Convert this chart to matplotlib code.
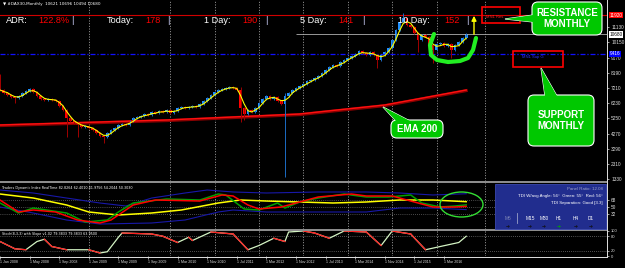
import numpy as np
import pandas as pd
import matplotlib.pyplot as plt
from matplotlib.patches import FancyBboxPatch, Rectangle, Ellipse, Polygon

plt.rcParams['font.family'] = ['Liberation Sans', 'DejaVu Sans']

# ---- data ----
title = '\u25bc #DAX30,Monthly  10621 10696 10494 10680'

first_open = 8050
closes = [7085, 6892, 6763, 6634, 6569, 6698, 6892, 7021, 7150, 6956,
          6698, 6505, 6440, 6505, 6440, 6376, 6053, 5795, 5279, 5086,
          4957, 4828, 4699, 4763, 4634, 4505, 4312, 4118, 4054, 4312,
          4505, 4634, 4828, 4892, 4828, 5086, 5279, 5344, 5408, 5537,
          5473, 5666, 5602, 5731, 5666, 5795, 5602, 5731, 5924, 5989,
          5924, 5989, 6053, 5989, 6182, 6376, 6569, 6763, 6956, 7085,
          7150, 7214, 7279, 7214, 7085, 5924, 5537, 5795, 5666, 5924,
          6247, 6505, 6698, 6505, 6634, 6376, 6182, 6698, 6892, 7085,
          7214, 7343, 7472, 7666, 7730, 7859, 7988, 8182, 8375, 8569,
          8698, 8633, 8891, 9020, 9149, 9278, 9407, 9601, 9472, 9343,
          9536, 9343, 9020, 9343, 9536, 9794, 10310, 10955, 11471, 11729,
          11278, 11149, 10762, 10310, 10633, 10504, 9988, 9665, 10052, 10117,
          9923, 10052, 9665, 9988, 10181, 10439, 10680]
wick_hi = {65: 7280, 77: 6892, 109: 12052, 110: 11600}
wick_lo = {4: 6247, 18: 4054, 21: 4054, 28: 3666, 65: 5021, 66: 5150,
           77: 1474, 102: 8504, 113: 9536, 117: 8826, 122: 9149}

ema200_bar = [0, 27, 45, 63, 81, 86, 104, 126]
ema200 = [4828, 5021, 5150, 5344, 5537, 5666, 6118, 7085]

res_level = 11920
sup_level = 9416
last_price = 10680
price_ticks = [1330, 2310, 3290, 4270, 5250, 6230, 7210, 8190, 9170, 10150, 11130]

separators = [24, 46, 58, 70, 82, 94, 106, 118, 131]
date_labels = ['1 Jan 2008', '1 May 2008', '1 Sep 2008', '1 Jan 2009', '1 May 2009',
               '1 Sep 2009', '1 Mar 2010', '1 Nov 2010', '1 Jul 2011', '1 Mar 2012',
               '1 Nov 2012', '1 Jul 2013', '1 Mar 2014', '1 Nov 2014', '1 Jul 2015',
               '1 Mar 2016']

# Traders Dynamic Index
tdi_title = 'Traders Dynamic Index RealTime 82.8264 62.4010 41.9756 54.2044 50.3030'
tdi_upper_bar = [0, 9, 18, 27, 34, 41, 50, 56, 63, 72, 86, 99, 108, 117, 126]
tdi_upper = [92.4, 84.7, 71.8, 59.0, 51.3, 71.8, 84.7, 92.4, 87.3, 84.7, 87.3, 87.3, 84.7, 79.6, 82.8]
tdi_lower_bar = [0, 9, 18, 27, 41, 50, 59, 63, 72, 86, 99, 108, 117, 126]
tdi_lower = [48.7, 33.3, 15.3, 5.0, 7.6, 15.3, 35.9, 41.0, 35.9, 35.9, 35.9, 46.1, 46.1, 42.0]
tdi_yellow_bar = [0, 9, 18, 24, 32, 41, 49, 59, 65, 72, 81, 90, 99, 108, 117, 126]
tdi_yellow = [82.1, 71.8, 53.9, 35.9, 28.2, 33.3, 41.0, 59.0, 66.7, 64.1, 61.6, 59.0, 61.6, 66.7, 66.7, 62.4]
tdi_green_bar = [0, 5, 9, 18, 23, 29, 32, 36, 45, 54, 59, 61, 66, 70, 75, 77, 81, 86, 93,
                 99, 105, 111, 114, 119, 123, 126]
tdi_green = [59.0, 33.3, 46.1, 33.3, 10.2, 15.3, 35.9, 59.0, 69.3, 66.7, 82.1, 79.6, 43.6,
             41.0, 59.0, 46.1, 61.6, 71.8, 82.1, 74.4, 74.4, 79.6, 59.0, 48.7, 51.3, 54.2]
tdi_red_bar = [0, 5, 9, 15, 21, 27, 30, 36, 42, 54, 60, 63, 67, 70, 76, 81, 86, 95, 99,
               106, 113, 117, 123, 126]
tdi_red = [66.7, 35.9, 41.0, 35.9, 15.3, 7.6, 15.3, 53.9, 66.7, 64.1, 79.6, 77.0, 53.9,
           43.6, 48.7, 61.6, 74.4, 82.1, 77.0, 77.0, 59.0, 48.7, 48.7, 50.3]
tdi_levels = [68, 50, 32]

# Stochastic
stoch_title = 'Stoch(8,3,3) with Slope v1.02 79.3833 79.3833 63.9500'
stoch_bar = [0, 4, 7, 10, 12, 14, 18, 24, 27, 29, 32, 33, 41, 44, 48, 51, 52, 57, 63, 67,
             70, 74, 77, 78, 82, 85, 89, 93, 99, 103, 106, 111, 115, 119, 124, 126]
stoch = [58, 29, 25, 58, 67, 38, 25, 25, 12, 17, 75, 92, 88, 79, 54, 75, 62, 96, 88, 25,
         42, 71, 58, 96, 100, 92, 71, 100, 96, 42, 100, 88, 25, 38, 54, 79]

header = [('ADR:', '122.8%'), ('Today:', '178'), ('1 Day:', '190'),
          ('5 Day:', '141'), ('10 Day:', '152')]

# ---- layout ----
W, H = 625, 268
PXB = 3.7  # pixels per bar
fig = plt.figure(figsize=(6.25, 2.68), dpi=100, facecolor='black')


def px_axes(x0, y0, x1, y1, **kw):
    return fig.add_axes([x0 / W, 1 - y1 / H, (x1 - x0) / W, (y1 - y0) / H], **kw)


main = px_axes(0, 0, 607, 181)
tdi = px_axes(0, 183, 607, 229)
sto = px_axes(0, 231, 607, 256)
for ax in (main, tdi, sto):
    ax.set_facecolor('black')
    ax.set_xlim(0, 607 / PXB)
    for s in ax.spines.values():
        s.set_visible(False)
    ax.tick_params(axis='x', bottom=False, labelbottom=False)
    ax.tick_params(axis='y', left=False, labelleft=False, right=True, labelright=True,
                   colors='#dddddd', labelsize=3.4, length=1.5, width=0.5, pad=1.5)
    for s in separators:
        ax.axvline(s, color='#b8b8b8', lw=0.6, ls=(0, (1.2, 2)))

# ---- main price panel ----
c = np.array(closes, float)
o = np.r_[first_open, c[:-1]]
x = np.arange(len(c))
hi = np.maximum(o, c) + 70
lo = np.minimum(o, c) - 70
for k, v in wick_hi.items():
    hi[k] = v
for k, v in wick_lo.items():
    lo[k] = v
up = c >= o
main.set_ylim(1216, 12890)
main.axhline(res_level, color='#d00000', lw=0.8)
main.axhline(sup_level, color='#1010ff', lw=0.9, ls=(0, (4, 1.5, 1, 1.5)))
main.hlines(last_price, 80, 607 / PXB, color='#b0b0b0', lw=0.6)
main.plot(ema200_bar, np.array(ema200) - 40, color='#8b0000', lw=2.2)
main.plot(ema200_bar, ema200, color='#ff1010', lw=1.0)
main.vlines(x, lo, hi, colors=np.where(up, '#1c6cc4', '#a00000'), lw=0.7)
main.bar(x, np.maximum(np.abs(c - o), 50), bottom=np.minimum(o, c), width=0.75,
         color=np.where(up, '#1e90ff', '#ff0000'), lw=0)
main.plot(x, pd.Series(c).rolling(3, min_periods=1).mean(), color='#ffff00', lw=0.8)
main.set_yticks(price_ticks)
main.set_yticklabels([str(t) for t in price_ticks])
ytr = main.get_yaxis_transform()
for lvl, fc, tc in [(res_level, '#ff0000', 'white'), (last_price, 'white', 'black'),
                    (sup_level, '#0000ff', 'white')]:
    main.text(1.004, lvl, str(lvl), transform=ytr, fontsize=3.4, color=tc, va='center',
              ha='left', clip_on=False, zorder=20,
              bbox=dict(fc=fc, ec='none', pad=0.6))

# ---- TDI panel ----
tdi.set_ylim(-7.8, 110.4)
for lv in tdi_levels:
    tdi.axhline(lv, color='#909090', lw=0.5, ls=(0, (1, 2)))
tdi.plot(tdi_upper_bar, tdi_upper, color='#1818a8', lw=0.8)
tdi.plot(tdi_lower_bar, tdi_lower, color='#1818a8', lw=0.8)
tdi.plot(tdi_yellow_bar, tdi_yellow, color='#ffff00', lw=1.1)
tdi.plot(tdi_green_bar, tdi_green, color='#00a000', lw=1.1)
tdi.plot(tdi_red_bar, tdi_red, color='#ff0000', lw=1.1)
tdi.set_yticks(tdi_levels)
tdi.set_yticklabels([str(v) for v in tdi_levels])
tdi.text(0.004, 0.93, tdi_title, transform=tdi.transAxes, color='white', fontsize=2.4,
         va='top', family='DejaVu Sans')

# ---- Stochastic panel ----
sto.set_ylim(0, 100)
for lv in (80, 20):
    sto.axhline(lv, color='#a0a0a0', lw=0.5, ls=(0, (1, 2)))
sb = np.array(stoch_bar)
sv = np.array(stoch, float)
sto.plot(sb, sv, color='#d4f4c4', lw=0.9)
for i in range(len(sb) - 1):
    if sv[i + 1] < sv[i]:
        sto.plot(sb[i:i + 2], sv[i:i + 2], color='#ff2020', lw=0.9)
sto.set_yticks([100, 80, 20, 0])
sto.set_yticklabels(['100', '80', '20', '0'])
sto.tick_params(axis='y', labelsize=3.0)
sto.set_xticks(np.arange(len(date_labels)) * 8)
sto.set_xticklabels(date_labels)
sto.tick_params(axis='x', bottom=True, labelbottom=True, colors='#dddddd', labelsize=2.6,
                length=2, width=0.5, pad=1)
for lbl in sto.get_xticklabels():
    lbl.set_ha('left')
sto.text(0.004, 0.96, stoch_title, transform=sto.transAxes, color='white', fontsize=2.4,
         va='top', family='DejaVu Sans')

# ---- overlay in pixel coordinates ----
ov = fig.add_axes([0, 0, 1, 1], zorder=10)
ov.set_xlim(0, W)
ov.set_ylim(H, 0)
ov.axis('off')
ov.patch.set_alpha(0)

ov.add_patch(Rectangle((0, 181), 607, 2, color='#8c8c8c', lw=0))
ov.add_patch(Rectangle((0, 229), 607, 2, color='#8c8c8c', lw=0))
ov.plot([607, 607], [0, 256.5], color='#e0e0e0', lw=0.7)
ov.plot([0, 607], [256.5, 256.5], color='#e0e0e0', lw=0.7)

ov.text(3, 4.5, title, color='white', fontsize=3.0, va='center', family='DejaVu Sans')

hx = [(6, 38, 71), (107, 145, 167), (204, 242, 265), (300, 338, 362), (398, 444, 466)]
for (lab, val), (xl, xv, xb) in zip(header, hx):
    ov.text(xl, 20.5, lab, color='white', fontsize=6.6, va='center')
    ov.text(xv, 20.5, val, color='#ff0000', fontsize=6.6, va='center')
    ov.text(xb, 20.5, '|', color='#d0d4ff', fontsize=6.6, va='center')


def callout(x0, y0, x1, y1, tip, base, lines):
    ov.add_patch(Polygon([base[0], tip, base[1]], closed=True, fc='#00c800', ec='white', lw=0.8))
    ov.add_patch(FancyBboxPatch((x0, y0), x1 - x0, y1 - y0,
                                boxstyle='round,pad=0,rounding_size=6',
                                fc='#00c800', ec='white', lw=0.8))
    ov.add_patch(Polygon([base[0], tip, base[1]], closed=True, fc='#00c800', ec='none', lw=0))
    n = len(lines)
    for j, t in enumerate(lines):
        yy = (y0 + y1) / 2 + (j - (n - 1) / 2) * 10.5
        ov.text((x0 + x1) / 2, yy, t, color='white', fontsize=7, fontweight='bold',
                ha='center', va='center')


ov.add_patch(Rectangle((482, 7), 38, 16, fc='none', ec='#ff0000', lw=1.2))
ov.text(486, 17, 'MN1 Res', color='#ff2020', fontsize=3.0, va='center')
ov.add_patch(Rectangle((513, 51), 50, 16, fc='none', ec='#ff0000', lw=1.2))
ov.text(522, 57, 'MN1 Sup G', color='#3030ff', fontsize=3.0, va='center')

callout(532, 2, 602, 35, (505, 19), [(533, 15), (533, 22)], ['RESISTANCE', 'MONTHLY'])
callout(528, 95, 594, 146, (541, 68), [(545, 96), (557, 96)], ['SUPPORT', 'MONTHLY'])
callout(391, 120, 443, 138, (383, 107), [(396, 121), (410, 121)], ['EMA 200'])

ux = [434, 430, 431, 437, 448, 460, 468, 473, 476]
uy = [34, 45, 55, 60, 62, 61, 58, 50, 38]
ov.plot(ux, uy, color='#22ee22', lw=3, solid_capstyle='round', solid_joinstyle='round')
ov.annotate('', xy=(474, 13), xytext=(474, 37),
            arrowprops=dict(arrowstyle='-|>', color='#ffff00', lw=1.0, mutation_scale=7))

# TDI info panel
ov.add_patch(Rectangle((495, 184), 111, 45, fc='#212d8e', ec='#3a48b0', lw=0.6))
ov.text(603, 189.5, 'Panel Ratio: 12.08', color='#9aa0c8', fontsize=3.2, ha='right', va='center')
ov.text(603, 195.5, 'TDI W/avg Angle: 56\u00b0  Green: 55\u00b0  Red: 56\u00b0', color='white',
        fontsize=3.2, ha='right', va='center')
ov.text(603, 203, 'TDI Separation: Good [3.3]', color='white', fontsize=3.2, ha='right', va='center')
ov.plot([517, 517], [213, 223], color='#9aa0c8', lw=0.6)
for tf, tx, col in [('M5', 508, '#8088b8'), ('M15', 530, 'white'), ('M30', 544, 'white'),
                    ('H1', 559, 'white'), ('H4', 576, 'white'), ('D1', 591, 'white')]:
    ov.text(tx, 218, tf, color=col, fontsize=3.4, ha='center', va='center')
    ov.text(tx, 226.5, '\u2794', color='#00aa00' if tf == 'H1' else '#101010', fontsize=3.4,
            ha='center', va='center', family=['DejaVu Sans'])
ov.add_patch(Ellipse((461.5, 204.5), 43, 25, fc='none', ec='#33dd33', lw=1.0))

fig.savefig('out.png', dpi=100, facecolor='black')
